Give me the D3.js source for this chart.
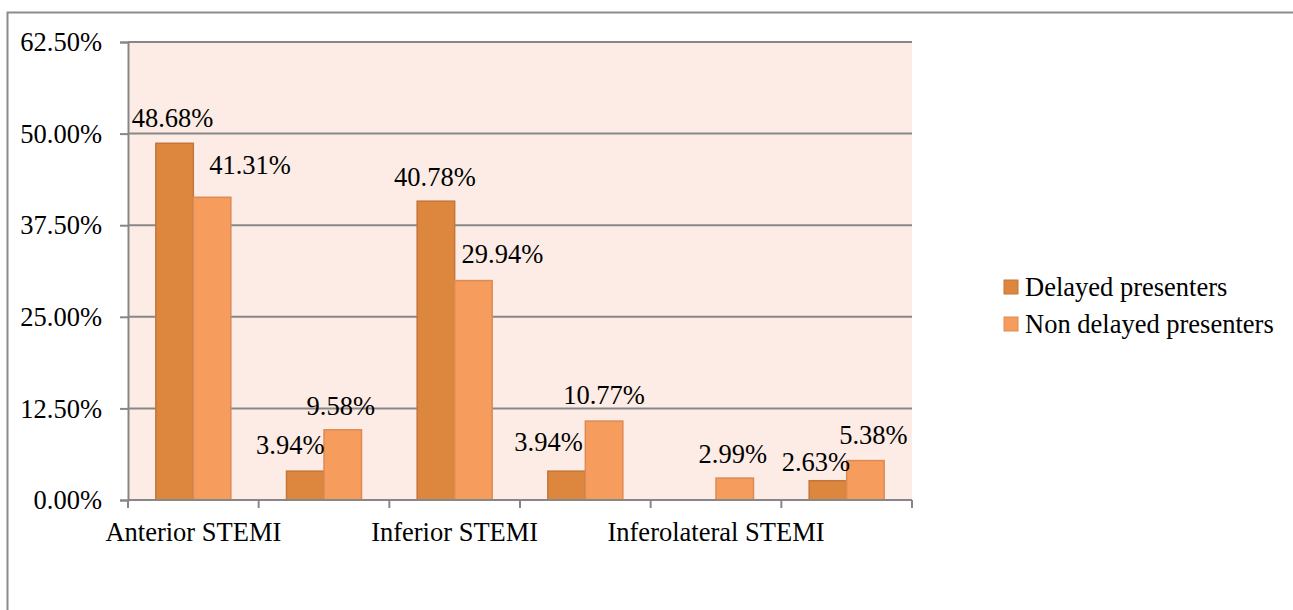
<!DOCTYPE html>
<html>
<head>
<meta charset="utf-8">
<script src="https://cdn.jsdelivr.net/npm/d3@7"></script>
<style>
  body { margin: 0; background: #fff; }
</style>
</head>
<body>
<div id="chart"></div>
<script>
// categories (only every other label is shown on the axis, as in the picture)
var categories = ["Anterior STEMI", "", "Inferior STEMI", "", "Inferolateral STEMI", ""];
var seriesNames = ["Delayed presenters", "Non delayed presenters"];
var delayed = [48.68, 3.94, 40.78, 3.94, 0, 2.63];
var nonDelayed = [41.31, 9.58, 29.94, 10.77, 2.99, 5.38];
var yTicks = [0, 12.5, 25, 37.5, 50, 62.5];

var width = 1293, height = 610;
var colors = ["#dc863e", "#f69d5d"];
var strokes = ["#c4763a", "#dc8b55"];
var fontSize = 26.5;
var serif = "'Liberation Serif', 'Times New Roman', Tinos, 'DejaVu Serif', serif";

var svg = d3.select("#chart").append("svg")
    .attr("width", width)
    .attr("height", height)
    .style("font-family", serif);

// outer chart border, runs off the right and bottom edge
svg.append("rect")
    .attr("x", 7.5).attr("y", 12.5)
    .attr("width", 1300).attr("height", 620)
    .attr("fill", "none")
    .attr("stroke", "#8c8c8c")
    .attr("stroke-width", 2);

var plotLeft = 128, plotRight = 912, plotTop = 42, plotBottom = 500;

var x = d3.scaleBand().domain(d3.range(categories.length)).range([plotLeft, plotRight]);
var inner = d3.scaleBand().domain([0, 1]).range([0, 75]);
var y = d3.scaleLinear().domain([0, 62.5]).range([plotBottom, plotTop]);

// plot background
svg.append("rect")
    .attr("x", plotLeft).attr("y", plotTop)
    .attr("width", plotRight - plotLeft).attr("height", plotBottom - plotTop)
    .attr("fill", "#fcece5");

// gridlines
svg.append("g").selectAll("line")
    .data(yTicks.slice(1))
    .enter().append("line")
    .attr("x1", plotLeft).attr("x2", plotRight)
    .attr("y1", function(d) { return y(d); })
    .attr("y2", function(d) { return y(d); })
    .attr("stroke", "#878787")
    .attr("stroke-width", 2);

// y axis
var yAxis = svg.append("g")
    .attr("transform", "translate(" + plotLeft + ",0)")
    .call(d3.axisLeft(y).tickValues(yTicks).tickSize(8).tickPadding(18)
        .tickFormat(function(d) { return d.toFixed(2) + "%"; }));
yAxis.attr("font-family", null).attr("font-size", null);
yAxis.select(".domain").attr("stroke", "#878787").attr("stroke-width", 2);
yAxis.selectAll(".tick line").attr("stroke", "#878787").attr("stroke-width", 2);
yAxis.selectAll("text")
    .style("font-family", serif)
    .attr("font-size", fontSize)
    .attr("fill", "#000")
    .attr("dy", "0.33em");

// bars
var rows = [];
categories.forEach(function(c, i) {
    rows.push({ cat: i, s: 0, v: delayed[i] });
    rows.push({ cat: i, s: 1, v: nonDelayed[i] });
});

function barX(d) { return x(d.cat) + (x.bandwidth() - 75) / 2 + inner(d.s); }

svg.append("g").selectAll("rect")
    .data(rows.filter(function(d) { return d.v > 0; }))
    .enter().append("rect")
    .attr("x", barX)
    .attr("y", function(d) { return y(d.v); })
    .attr("width", inner.bandwidth())
    .attr("height", function(d) { return plotBottom - y(d.v); })
    .attr("fill", function(d) { return colors[d.s]; })
    .attr("stroke", function(d) { return strokes[d.s]; })
    .attr("stroke-width", 1.5);

// x axis
var xAxis = svg.append("g")
    .attr("transform", "translate(0," + plotBottom + ")");
xAxis.append("line")
    .attr("x1", plotLeft).attr("x2", plotRight)
    .attr("stroke", "#878787").attr("stroke-width", 2);
xAxis.selectAll(".tk")
    .data(d3.range(categories.length + 1))
    .enter().append("line")
    .attr("x1", function(i) { return plotLeft + i * x.bandwidth(); })
    .attr("x2", function(i) { return plotLeft + i * x.bandwidth(); })
    .attr("y1", 0).attr("y2", 8)
    .attr("stroke", "#878787").attr("stroke-width", 2);
xAxis.selectAll("text")
    .data(categories)
    .enter().append("text")
    .attr("x", function(d, i) { return x(i) + x.bandwidth() / 2; })
    .attr("y", 32)
    .attr("dy", "0.33em")
    .attr("text-anchor", "middle")
    .attr("font-size", fontSize)
    .text(function(d) { return d; });

// data labels (hand-moved in the original, so nudged a little)
var nudge = [[-2, 0], [38, -7], [-15, -1], [-2, 1], [-1, 1], [29, -1],
             [-18, -4], [0, -1], [0, 0], [-2, 1], [-12, 7], [8, 0]];
svg.append("g").selectAll("text")
    .data(rows)
    .enter().filter(function(d) { return d.v > 0; })
    .append("text")
    .attr("x", function(d) { var k = d.cat * 2 + d.s; return barX(d) + inner.bandwidth() / 2 + nudge[k][0]; })
    .attr("y", function(d) { var k = d.cat * 2 + d.s; return y(d.v) - 25 + nudge[k][1]; })
    .attr("dy", "0.33em")
    .attr("text-anchor", "middle")
    .attr("font-size", fontSize)
    .text(function(d) { return d.v.toFixed(2) + "%"; });

// legend
var legend = svg.append("g").selectAll("g")
    .data(seriesNames)
    .enter().append("g")
    .attr("transform", function(d, i) { return "translate(1004," + (287 + i * 37) + ")"; });
legend.append("rect")
    .attr("x", 0).attr("y", -7)
    .attr("width", 14).attr("height", 14)
    .attr("fill", function(d, i) { return colors[i]; })
    .attr("stroke", function(d, i) { return strokes[i]; });
legend.append("text")
    .attr("x", 21)
    .attr("dy", "0.33em")
    .attr("font-size", fontSize)
    .text(function(d) { return d; });
</script>
</body>
</html>
